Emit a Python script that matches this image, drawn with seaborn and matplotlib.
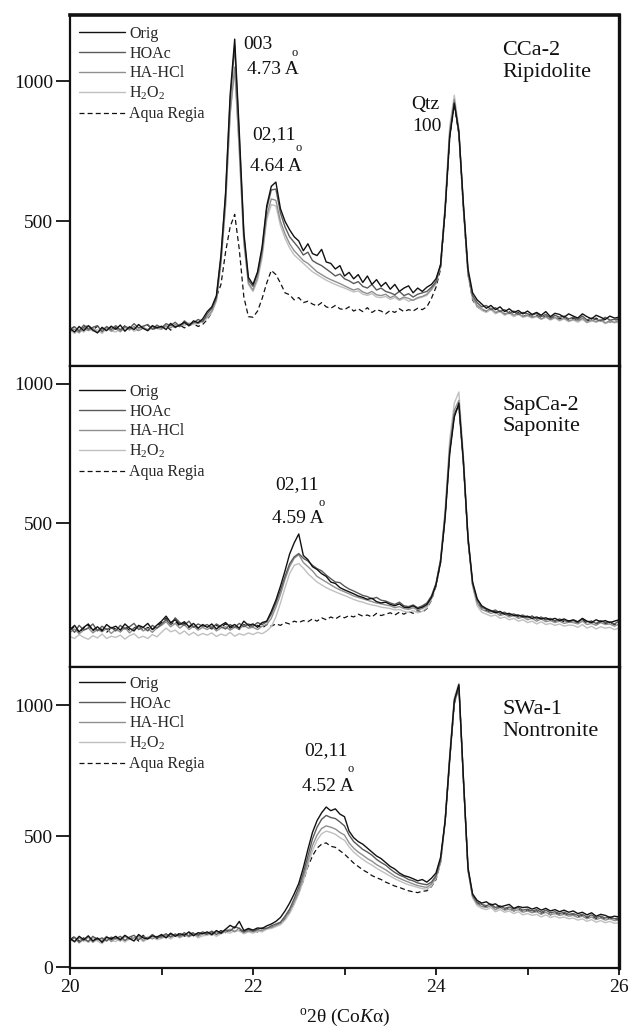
import numpy as np
import pandas as pd
import matplotlib
matplotlib.use("Agg")
import matplotlib.pyplot as plt
import seaborn as sns

# ---------------- data ----------------
two_theta = np.round(np.linspace(20.0, 26.0, 121), 2)   # scan grid, 0.05 deg step
treatments = ["Orig", "HOAc", "HA-HCl", "H2O2", "Aqua Regia"]
legend_labels = ["Orig", "HOAc", "HA-HCl", r"H$_2$O$_2$", "Aqua Regia"]
y_ticks_top = [500, 1000]
y_ticks_mid = [500, 1000]
y_ticks_bot = [0, 500, 1000]
x_major = [20, 22, 24, 26]
x_minor = [21, 23, 25]

# ---- CCa-2 Ripidolite ----
cca2_orig = [118, 105, 125, 110, 128, 112, 102, 122, 110, 126,
             115, 130, 108, 124, 114, 132, 118, 110, 128, 120,
             126, 114, 136, 122, 130, 140, 128, 145, 138, 152,
             178, 195, 235, 380, 600, 950, 1150, 820, 460, 300,
             275, 320, 410, 555, 625, 640, 545, 500, 470, 445,
             430, 395, 420, 385, 378, 400, 355, 350, 330, 342,
             305, 318, 295, 310, 282, 305, 275, 292, 268, 282,
             258, 275, 250, 262, 270, 245, 262, 250, 265, 275,
             295, 345, 540, 800, 920, 820, 560, 330, 245, 220,
             205, 190, 200, 185, 195, 178, 188, 175, 182, 170,
             180, 168, 175, 165, 178, 160, 172, 168, 158, 170,
             162, 155, 170, 160, 152, 165, 158, 150, 162, 155,
             158]
cca2_hoac = [112, 124, 108, 130, 115, 122, 128, 106, 125, 114,
             128, 112, 126, 118, 135, 120, 126, 132, 115, 130,
             120, 135, 128, 140, 125, 145, 132, 138, 150, 142,
             170, 190, 228, 370, 590, 930, 1125, 800, 450, 290,
             268, 315, 400, 545, 612, 615, 530, 480, 445, 425,
             405, 380, 390, 360, 350, 342, 330, 318, 305, 312,
             295, 288, 278, 285, 268, 262, 275, 255, 262, 250,
             245, 238, 250, 235, 242, 230, 240, 245, 250, 265,
             285, 345, 545, 810, 925, 815, 550, 320, 235, 210,
             195, 200, 185, 192, 178, 185, 172, 180, 168, 175,
             170, 165, 172, 160, 168, 155, 165, 158, 162, 152,
             158, 150, 162, 148, 155, 150, 145, 158, 148, 150,
             152]
cca2_hahcl = [108, 115, 102, 120, 110, 118, 104, 115, 122, 108,
              118, 106, 122, 112, 125, 110, 120, 114, 126, 118,
              115, 128, 120, 132, 124, 136, 128, 140, 135, 145,
              160, 180, 220, 355, 560, 880, 1050, 760, 430, 280,
              255, 300, 385, 520, 580, 575, 500, 455, 420, 395,
              378, 360, 350, 335, 320, 310, 300, 292, 285, 278,
              270, 262, 255, 260, 248, 242, 250, 238, 235, 240,
              228, 235, 222, 230, 225, 218, 228, 232, 240, 258,
              280, 340, 550, 820, 935, 820, 545, 315, 228, 200,
              188, 180, 190, 175, 182, 168, 176, 165, 172, 160,
              165, 158, 162, 152, 160, 150, 158, 148, 155, 145,
              150, 145, 155, 140, 148, 142, 150, 138, 145, 140,
              145]
cca2_h2o2 = [112, 100, 116, 105, 120, 108, 114, 100, 118, 110,
             105, 118, 110, 122, 108, 116, 125, 110, 120, 126,
             118, 124, 130, 120, 134, 128, 138, 132, 142, 140,
             155, 175, 215, 350, 555, 890, 1040, 750, 420, 275,
             250, 290, 370, 505, 560, 555, 485, 440, 405, 380,
             365, 350, 335, 320, 310, 300, 290, 282, 275, 268,
             262, 255, 248, 252, 240, 236, 242, 230, 228, 232,
             222, 228, 218, 225, 215, 220, 225, 230, 236, 255,
             278, 345, 560, 840, 950, 830, 550, 310, 225, 195,
             182, 175, 185, 170, 178, 165, 172, 160, 168, 158,
             162, 155, 160, 150, 158, 148, 155, 145, 152, 142,
             148, 140, 150, 138, 145, 140, 146, 135, 142, 138,
             140]
cca2_aqua = [115, 125, 108, 122, 130, 112, 126, 118, 108, 125,
             120, 110, 128, 116, 124, 108, 122, 130, 114, 120,
             118, 128, 112, 125, 130, 120, 128, 135, 125, 132,
             150, 175, 230, 275, 390, 480, 525, 400, 230, 160,
             158, 180, 225, 280, 325, 310, 280, 245, 238, 220,
             228, 210, 215, 205, 198, 210, 195, 190, 200, 188,
             185, 195, 180, 188, 178, 192, 175, 185, 180, 170,
             182, 175, 188, 178, 185, 180, 190, 185, 195, 225,
             265, 330, 535, 800, 915, 810, 540, 310, 220, 195,
             185, 178, 190, 172, 180, 168, 178, 165, 175, 160,
             168, 158, 165, 155, 162, 150, 160, 152, 158, 148,
             155, 145, 152, 148, 142, 155, 145, 150, 140, 148,
             150]

# ---- SapCa-2 Saponite ----
sapca2_orig = [120, 135, 112, 128, 140, 118, 130, 115, 138, 125,
               132, 118, 140, 125, 115, 135, 128, 142, 120, 136,
               150, 168, 145, 155, 138, 148, 130, 142, 125, 138,
               128, 140, 122, 135, 145, 130, 138, 125, 150, 135,
               140, 128, 145, 150, 185, 225, 275, 330, 390, 430,
               462, 385, 370, 345, 335, 320, 310, 290, 285, 270,
               262, 255, 248, 240, 235, 228, 232, 220, 215, 218,
               210, 205, 212, 200, 198, 205, 195, 200, 210, 235,
               280, 360, 520, 750, 880, 930, 720, 450, 290, 230,
               205, 195, 188, 180, 185, 175, 178, 170, 172, 165,
               168, 160, 165, 158, 162, 155, 160, 152, 158, 150,
               155, 148, 160, 150, 145, 155, 148, 152, 145, 150,
               155]
sapca2_hoac = [128, 110, 135, 118, 125, 140, 115, 132, 120, 128,
               115, 135, 122, 130, 142, 120, 128, 115, 135, 125,
               140, 155, 138, 162, 145, 135, 150, 128, 140, 132,
               138, 125, 140, 130, 122, 138, 128, 142, 130, 140,
               132, 145, 138, 148, 175, 215, 260, 310, 355, 380,
               392, 375, 365, 350, 338, 330, 315, 302, 290, 288,
               275, 265, 258, 250, 242, 238, 230, 235, 225, 222,
               215, 210, 218, 205, 202, 208, 198, 205, 215, 240,
               285, 370, 530, 760, 890, 920, 710, 440, 285, 225,
               200, 192, 185, 190, 178, 182, 172, 176, 168, 172,
               162, 168, 158, 165, 155, 160, 150, 158, 152, 148,
               152, 145, 158, 148, 150, 142, 152, 145, 148, 140,
               150]
sapca2_hahcl = [110, 122, 105, 118, 126, 108, 120, 112, 124, 106,
                120, 112, 128, 108, 122, 130, 115, 124, 110, 126,
                135, 148, 130, 142, 125, 138, 120, 132, 118, 128,
                120, 132, 115, 126, 130, 118, 128, 122, 135, 125,
                128, 120, 132, 138, 160, 200, 245, 300, 345, 375,
                388, 360, 345, 330, 310, 300, 290, 280, 270, 262,
                255, 248, 240, 235, 230, 225, 220, 215, 212, 208,
                205, 198, 202, 195, 192, 198, 190, 195, 205, 232,
                280, 365, 535, 775, 905, 940, 720, 445, 280, 215,
                192, 185, 178, 182, 170, 175, 165, 170, 160, 165,
                155, 160, 150, 158, 148, 152, 145, 150, 142, 146,
                145, 140, 150, 138, 142, 135, 145, 138, 140, 132,
                140]
sapca2_h2o2 = [95, 88, 102, 92, 85, 98, 90, 104, 88, 96,
               92, 100, 86, 98, 105, 90, 96, 88, 102, 94,
               110, 125, 112, 118, 104, 115, 100, 110, 98, 106,
               100, 108, 95, 104, 98, 110, 96, 105, 100, 108,
               102, 110, 105, 115, 130, 165, 215, 270, 320, 350,
               356, 340, 320, 305, 290, 280, 270, 262, 255, 248,
               242, 235, 228, 222, 218, 212, 208, 205, 200, 198,
               195, 190, 192, 185, 182, 188, 180, 185, 198, 228,
               280, 370, 550, 800, 930, 970, 740, 450, 275, 205,
               182, 175, 168, 172, 160, 165, 155, 160, 150, 155,
               145, 150, 140, 148, 138, 142, 135, 140, 132, 136,
               135, 128, 138, 125, 132, 122, 130, 125, 128, 120,
               125]
sapca2_aqua = [118, 130, 108, 125, 135, 115, 128, 120, 110, 126,
               122, 112, 130, 118, 125, 135, 115, 128, 120, 132,
               145, 160, 138, 150, 132, 142, 128, 138, 125, 135,
               130, 122, 135, 128, 140, 125, 132, 120, 138, 130,
               128, 135, 125, 138, 132, 140, 135, 145, 140, 150,
               145, 152, 148, 158, 150, 162, 155, 165, 158, 168,
               162, 170, 165, 175, 168, 172, 165, 178, 170, 175,
               180, 172, 182, 175, 185, 178, 188, 182, 195, 225,
               275, 360, 525, 760, 890, 925, 715, 440, 280, 215,
               195, 188, 180, 185, 175, 180, 170, 175, 165, 170,
               162, 168, 158, 162, 155, 158, 150, 155, 148, 152,
               150, 145, 155, 142, 150, 140, 148, 142, 145, 138,
               145]

# ---- SWa-1 Nontronite ----
swa1_orig = [110, 98, 118, 105, 120, 100, 112, 95, 115, 108,
             118, 105, 122, 110, 100, 125, 112, 108, 120, 115,
             125, 112, 130, 118, 128, 122, 135, 120, 132, 128,
             135, 125, 140, 130, 145, 160, 150, 175, 140, 148,
             142, 150, 148, 158, 165, 175, 190, 215, 245, 280,
             320, 380, 450, 515, 560, 590, 612, 598, 605, 585,
             575, 520, 495, 480, 470, 455, 440, 425, 415, 400,
             385, 375, 360, 350, 345, 338, 330, 335, 325, 340,
             360, 420, 560, 800, 1020, 1080, 720, 380, 280, 255,
             245, 250, 238, 242, 230, 235, 240, 225, 232, 228,
             230, 222, 228, 218, 225, 215, 220, 212, 218, 210,
             215, 205, 210, 200, 208, 195, 202, 198, 190, 195,
             192]
swa1_hoac = [102, 115, 95, 110, 98, 118, 105, 112, 100, 115,
             108, 118, 102, 115, 122, 105, 118, 110, 125, 112,
             118, 128, 115, 125, 120, 132, 118, 128, 125, 135,
             128, 138, 125, 135, 142, 138, 155, 148, 135, 145,
             138, 145, 150, 148, 158, 165, 172, 195, 222, 262,
             305, 360, 425, 490, 535, 565, 580, 572, 568, 555,
             540, 505, 480, 465, 450, 440, 428, 412, 400, 390,
             375, 362, 352, 345, 335, 330, 322, 318, 315, 325,
             350, 410, 555, 790, 1010, 1070, 715, 375, 275, 248,
             240, 235, 242, 228, 235, 225, 230, 222, 228, 218,
             222, 215, 220, 210, 218, 208, 212, 205, 210, 202,
             205, 198, 202, 192, 200, 190, 195, 188, 192, 185,
             188]
swa1_hahcl = [108, 96, 112, 100, 115, 95, 108, 102, 118, 98,
              112, 100, 118, 106, 112, 120, 102, 115, 108, 118,
              112, 122, 118, 128, 115, 125, 120, 130, 118, 128,
              130, 122, 135, 128, 138, 145, 135, 150, 132, 140,
              135, 142, 140, 150, 152, 160, 168, 188, 215, 250,
              290, 345, 405, 465, 505, 530, 540, 535, 528, 515,
              505, 475, 455, 440, 428, 415, 405, 392, 382, 372,
              360, 348, 340, 332, 325, 318, 312, 308, 305, 318,
              345, 405, 560, 800, 1015, 1075, 712, 370, 270, 242,
              232, 228, 235, 220, 228, 218, 222, 215, 220, 210,
              215, 208, 212, 202, 210, 200, 205, 198, 202, 195,
              198, 190, 195, 185, 192, 182, 188, 180, 185, 178,
              180]
swa1_h2o2 = [100, 112, 92, 106, 95, 110, 100, 90, 108, 102,
             98, 110, 96, 108, 102, 115, 98, 108, 115, 105,
             110, 118, 108, 120, 112, 122, 115, 125, 112, 120,
             122, 130, 118, 128, 135, 130, 140, 138, 128, 135,
             130, 138, 135, 145, 148, 155, 162, 180, 205, 240,
             280, 330, 390, 445, 485, 510, 520, 515, 508, 495,
             485, 460, 440, 425, 412, 400, 390, 378, 368, 358,
             348, 338, 330, 322, 315, 310, 305, 300, 298, 310,
             340, 400, 565, 815, 1030, 1085, 718, 368, 265, 235,
             225, 220, 228, 212, 220, 210, 215, 205, 212, 200,
             205, 198, 202, 192, 200, 190, 195, 188, 192, 185,
             188, 180, 185, 175, 182, 172, 178, 170, 175, 168,
             170]
swa1_aqua = [105, 118, 100, 112, 96, 115, 108, 98, 112, 105,
             115, 102, 120, 108, 115, 100, 122, 110, 118, 108,
             122, 115, 128, 120, 130, 118, 126, 132, 120, 130,
             125, 135, 128, 140, 132, 145, 138, 142, 130, 138,
             140, 135, 148, 145, 152, 160, 170, 185, 212, 245,
             285, 330, 385, 425, 455, 470, 475, 462, 458, 445,
             432, 415, 398, 385, 372, 362, 350, 342, 335, 325,
             318, 310, 305, 298, 292, 288, 285, 290, 292, 308,
             335, 400, 555, 795, 1005, 1075, 712, 372, 272, 245,
             235, 230, 238, 222, 230, 220, 225, 215, 222, 212,
             218, 210, 215, 205, 212, 200, 208, 200, 205, 198,
             200, 192, 198, 188, 195, 185, 190, 182, 188, 180,
             182]

panel_series = [
    [cca2_orig, cca2_hoac, cca2_hahcl, cca2_h2o2, cca2_aqua],
    [sapca2_orig, sapca2_hoac, sapca2_hahcl, sapca2_h2o2, sapca2_aqua],
    [swa1_orig, swa1_hoac, swa1_hahcl, swa1_h2o2, swa1_aqua],
]
sample_names = ["CCa-2\nRipidolite", "SapCa-2\nSaponite", "SWa-1\nNontronite"]

# ---------------- styling ----------------
sns.set_theme(style="ticks")
plt.rcParams.update({
    "font.family": ["Liberation Serif", "DejaVu Serif"],
    "mathtext.fontset": "custom",
    "mathtext.rm": "Liberation Serif",
    "mathtext.it": "Liberation Serif:italic",
    "mathtext.bf": "Liberation Serif:bold",
    "axes.edgecolor": "#111111",
})

colors = {"Orig": "#111111", "HOAc": "#5a5a5a", "HA-HCl": "#8f8f8f",
          "H2O2": "#c0c0c0", "Aqua Regia": "#111111"}
styles = {"Orig": "-", "HOAc": "-", "HA-HCl": "-", "H2O2": "-",
          "Aqua Regia": (0, (4, 2.5))}
widths = {"Orig": 1.0, "HOAc": 1.0, "HA-HCl": 1.0, "H2O2": 1.0, "Aqua Regia": 0.9}
draw_order = ["Aqua Regia", "H2O2", "HA-HCl", "HOAc", "Orig"]

W_PX, H_PX = 630, 1030
fig = plt.figure(figsize=(W_PX / 100, H_PX / 100), dpi=100)
left_px, right_px = 70, 619
panel_px = [(15, 366), (366, 667), (667, 968)]
ylims = [(-16, 1236), (-14, 1063), (-3, 1147)]
yticks = [y_ticks_top, y_ticks_mid, y_ticks_bot]
legend_anchor_px = [(9, 11), (9, 18), (9, 9)]
name_pos = [0.868, 0.834, 0.822]

axes = []
for k, (t_px, b_px) in enumerate(panel_px):
    ax = fig.add_axes([left_px / W_PX, 1 - b_px / H_PX,
                       (right_px - left_px) / W_PX, (b_px - t_px) / H_PX])
    axes.append(ax)
    df = pd.DataFrame({
        "two_theta": np.tile(two_theta, len(treatments)),
        "intensity": np.concatenate([np.asarray(s, float) for s in panel_series[k]]),
        "treatment": np.repeat(treatments, len(two_theta)),
    })
    for t in draw_order:
        sub = df[df["treatment"] == t]
        sns.lineplot(data=sub, x="two_theta", y="intensity", ax=ax,
                     color=colors[t], linewidth=widths[t], linestyle=styles[t],
                     estimator=None, sort=False,
                     label=legend_labels[treatments.index(t)])
    ax.set_xlim(20, 26)
    ax.set_ylim(*ylims[k])
    ax.set_yticks(yticks[k])
    ax.set_xticks(x_major)
    ax.set_xticks(x_minor, minor=True)
    ax.set_xlabel("")
    ax.set_ylabel("")
    ax.tick_params(axis="y", which="both", direction="out", length=10, width=1.3,
                   labelsize=14, pad=2, colors="#111111")
    ax.yaxis.set_minor_locator(matplotlib.ticker.NullLocator())
    if k < 2:
        ax.tick_params(axis="x", which="both", bottom=False, labelbottom=False)
    else:
        ax.tick_params(axis="x", which="both", direction="out", length=5, width=1.3,
                       labelsize=14, pad=3, colors="#111111")
    for side, sp in ax.spines.items():
        sp.set_visible(True)
        sp.set_linewidth(1.6)
    ax.spines["right"].set_linewidth(2.4)
    if k == 0:
        ax.spines["top"].set_linewidth(2.6)

    handles, labels = ax.get_legend_handles_labels()
    lookup = dict(zip(labels, handles))
    ph = (b_px - t_px)
    ax.legend([lookup[l] for l in legend_labels], legend_labels,
              loc="upper left", frameon=False, fontsize=11.5,
              bbox_to_anchor=(legend_anchor_px[k][0] / (right_px - left_px),
                              1 - legend_anchor_px[k][1] / ph),
              borderaxespad=0, borderpad=0, handlelength=2.9,
              handletextpad=0.25, labelspacing=0.23)

    ax.text(0.787, name_pos[k], sample_names[k], transform=ax.transAxes,
            fontsize=16, ha="left", va="center", linespacing=1.2, color="#111111")

# peak annotations
a0, a1, a2 = axes
txt = dict(fontsize=14, color="#111111")
ring = dict(fontsize=9, color="#111111", ha="center", va="center")
a0.text(21.89, 1129, "003", ha="left", va="center", **txt)
a0.text(21.93, 1040, "4.73 A", ha="left", va="center", **txt)
a0.text(22.46, 1100, "o", **ring)
a0.text(21.99, 809, "02,11", ha="left", va="center", **txt)
a0.text(21.97, 695, "4.64 A", ha="left", va="center", **txt)
a0.text(22.50, 763, "o", **ring)
a0.text(23.88, 916, "Qtz", ha="center", va="center", **txt)
a0.text(23.90, 838, "100", ha="center", va="center", **txt)

a1.text(22.48, 639, "02,11", ha="center", va="center", **txt)
a1.text(22.49, 519, "4.59 A", ha="center", va="center", **txt)
a1.text(22.75, 572, "o", **ring)

a2.text(22.80, 827, "02,11", ha="center", va="center", **txt)
a2.text(22.82, 689, "4.52 A", ha="center", va="center", **txt)
a2.text(23.07, 758, "o", **ring)

a2.set_xlabel(r"$^{\mathrm{o}}$2θ (Co$K$α)", fontsize=14, labelpad=8, color="#111111")

fig.savefig("out.png", dpi=100, facecolor="white")
